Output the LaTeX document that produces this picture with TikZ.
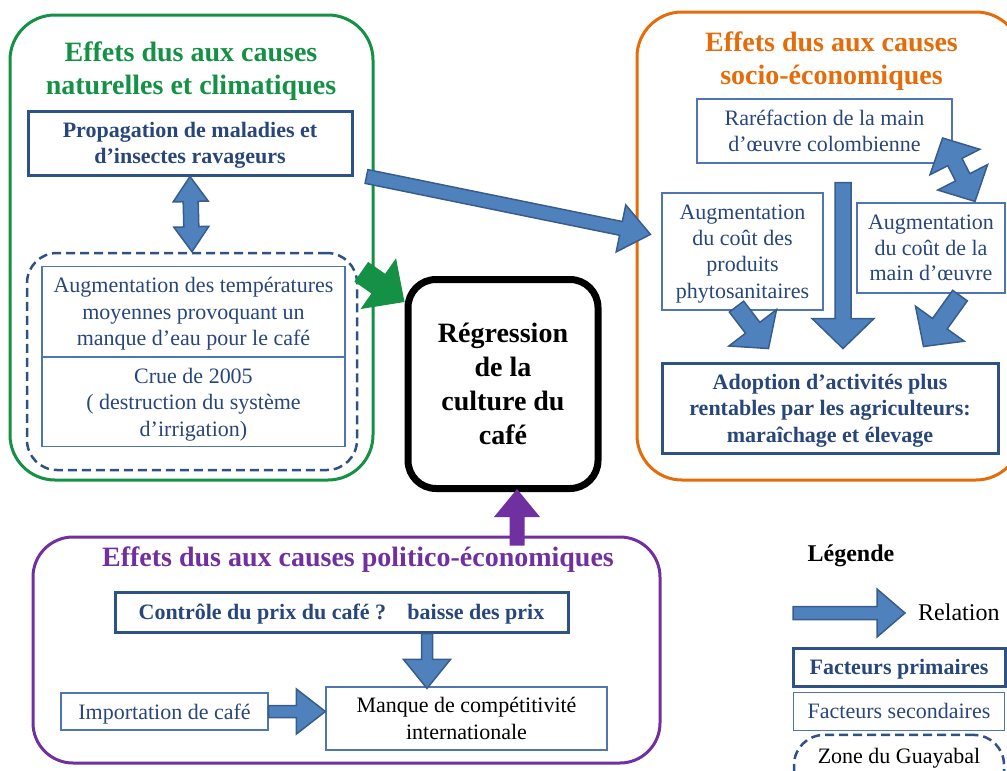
\documentclass[tikz,border=0pt]{standalone}
\usepackage{fontspec}
\setmainfont{Liberation Serif}
\usepackage{tikz}
\usetikzlibrary{calc,positioning}

\definecolor{ggreen}{RGB}{20,145,68}
\definecolor{gorange}{RGB}{228,108,10}
\definecolor{gpurple}{RGB}{112,48,160}
\definecolor{tblue}{RGB}{40,70,122}
\definecolor{pbord}{RGB}{47,82,133}
\definecolor{sbord}{RGB}{79,118,176}
\definecolor{afill}{RGB}{79,129,189}
\definecolor{aline}{RGB}{56,93,138}

% block arrow: [style]{from}{to}{half shaft}{half head}{head length}
\newcommand{\blockarrow}[6][relation]{%
  \path[#1] let \p1=#2, \p2=#3,
    \n1={atan2((\y2)-(\y1),(\x2)-(\x1))},
    \n2={veclen((\x2)-(\x1),(\y2)-(\y1))-#6} in
    ($(\p1)+(\n1+90:#4pt)$) -- ($(\p1)+(\n1:\n2)+(\n1+90:#4pt)$)
    -- ($(\p1)+(\n1:\n2)+(\n1+90:#5pt)$) -- (\p2)
    -- ($(\p1)+(\n1:\n2)+(\n1-90:#5pt)$)
    -- ($(\p1)+(\n1:\n2)+(\n1-90:#4pt)$)
    -- ($(\p1)+(\n1-90:#4pt)$) -- cycle;}
% same with a head at both ends
\newcommand{\twinarrow}[6][relation]{%
  \path[#1] let \p1=#2, \p2=#3,
    \n1={atan2((\y2)-(\y1),(\x2)-(\x1))},
    \n2={veclen((\x2)-(\x1),(\y2)-(\y1))-#6} in
    (\p1) -- ($(\p1)+(\n1:#6pt)+(\n1+90:#5pt)$)
    -- ($(\p1)+(\n1:#6pt)+(\n1+90:#4pt)$)
    -- ($(\p1)+(\n1:\n2)+(\n1+90:#4pt)$)
    -- ($(\p1)+(\n1:\n2)+(\n1+90:#5pt)$) -- (\p2)
    -- ($(\p1)+(\n1:\n2)+(\n1-90:#5pt)$)
    -- ($(\p1)+(\n1:\n2)+(\n1-90:#4pt)$)
    -- ($(\p1)+(\n1:#6pt)+(\n1-90:#4pt)$)
    -- ($(\p1)+(\n1:#6pt)+(\n1-90:#5pt)$) -- cycle;}

\begin{document}
\begin{tikzpicture}[x=1pt,y=-1pt,
  group node/.style={draw, line width=3pt, rounded corners=45pt},
  title node/.style={font=\bfseries\fontsize{28}{33}\selectfont, align=center, text depth=-2pt},
  prim node/.style={draw=pbord, line width=3pt, text=tblue, align=center, text depth=-2pt, font=\bfseries\fontsize{22}{26.5}\selectfont},
  sec node/.style={draw=sbord, line width=1.2pt, text=tblue, align=center, text depth=-2pt, font=\fontsize{22}{26.5}\selectfont},
  zone node/.style={draw=pbord, line width=2.5pt, dash pattern=on 9pt off 5pt, rounded corners=30pt},
  relation/.style={fill=afill, draw=aline, line width=1.5pt, line join=miter}]
\useasboundingbox (0,0) rectangle (1007,771);
\clip (0,0) rectangle (1007,771);

% frames
\node[group node, draw=ggreen, minimum width=363pt, minimum height=465pt] (g1) at (191.5,247.5) {};
\node[group node, draw=gorange, minimum width=384pt, minimum height=468pt] (g2) at (829,246) {};
\node[group node, draw=gpurple, rounded corners=40pt, minimum width=627pt, minimum height=226pt] (g3) at (346.5,650) {};
\node[title node, text=ggreen] (t1) at (191,68.5) {Effets dus aux causes\\naturelles et climatiques};
\node[title node, text=gorange] (t2) at (831.5,58.5) {Effets dus aux causes\\socio-économiques};
\node[title node, text=gpurple] (t3) at (358,557) {Effets dus aux causes politico-économiques};

% natural causes
\node[prim node, minimum width=324pt, minimum height=64pt] (1) at (190,143) {Propagation de maladies et\\d’insectes ravageurs};
\node[zone node, minimum width=330pt, minimum height=217pt] (z1) at (192,361.5) {};
\node[sec node, minimum width=303pt, minimum height=90pt] (2) at (193.5,311.5) {Augmentation des températures\\moyennes provoquant un\\manque d’eau pour le café};
\node[sec node, minimum width=303pt, minimum height=89pt] (3) [below=0pt of 2] {Crue de 2005\\( destruction du système\\d’irrigation)};

% centre
\node[draw, line width=7pt, rounded corners=28pt, minimum width=190pt, minimum height=209pt, align=center, text depth=-2pt, font=\bfseries\fontsize{28}{34}\selectfont] (4) at (503,384) {Régression\\de la\\culture du\\café};

% socio-economic causes
\node[sec node, minimum width=255pt, minimum height=64pt] (5) at (824.5,131) {Raréfaction de la main\\d’œuvre colombienne};
\node[sec node, minimum width=161pt, minimum height=117pt, font=\fontsize{22}{26.3}\selectfont] (6) at (742.5,251.5) {Augmentation\\du coût des\\produits\\phytosanitaires};
\node[sec node, minimum width=148pt, minimum height=90pt, font=\fontsize{22}{25.5}\selectfont] (7) at (931,248) {Augmentation\\du coût de la\\main d’œuvre};
\node[prim node, minimum width=336pt, minimum height=90pt] (8) at (830,408) {Adoption d’activités plus\\rentables par les agriculteurs:\\maraîchage et élevage};

% politico-economic causes
\node[prim node, minimum width=453pt, minimum height=40pt] (9) at (341.5,612) {Contrôle du prix du café ?\hspace{14pt} baisse des prix};
\node[sec node, minimum width=207pt, minimum height=37pt] (10) at (164.5,711.5) {Importation de café};
\node[sec node, text=black, minimum width=281pt, minimum height=63pt] (11) at (466.5,718.5) {Manque de compétitivité\\internationale};

% legend
\node[text depth=-2pt, font=\bfseries\fontsize{24}{28}\selectfont] (12) at (851,553) {Légende};
\node[anchor=west, inner sep=0pt, font=\fontsize{24}{28}\selectfont] (13) at (918,612) {Relation};
\node[prim node, minimum width=212pt, minimum height=38pt] (14) at (899,667) {Facteurs primaires};
\node[sec node, minimum width=211pt, minimum height=38pt] (15) [below=4pt of 14] {Facteurs secondaires};
\node[zone node, minimum width=210pt, minimum height=70pt] (z2) [below=3pt of 15] {};
\node[font=\fontsize{22}{26}\selectfont] (16) [below=11pt of z2.north] {Zone du Guayabal};

% relations
\twinarrow{(1.south)}{(z1.north)}{7.5}{17.5}{25};
\blockarrow{($(1.south east)+(13,0)$)}{($(6.north west)+(-11,42)$)}{7}{24}{30};
\blockarrow[fill=ggreen]{($(z1.north east)+(3,20)$)}{($(4.north west)+(0,26)$)}{12}{31}{32};
\blockarrow[fill=gpurple]{($(g3.north)+(170.5,10)$)}{($(4.south)+(14,-3)$)}{7.5}{23}{28};
\twinarrow{($(5.east)+(-10,7)$)}{($(7.north)+(44,-1)$)}{8}{28}{27};
\blockarrow{($(5.south)+(18.5,19)$)}{($(8.north)+(13,-13)$)}{8}{31}{30};
\blockarrow{($(6.south)+(-6,-4)$)}{($(8.north west)+(108,-13)$)}{9}{30}{26};
\blockarrow{($(7.south)+(29,2)$)}{($(8.north east)+(-76,-15)$)}{9}{30}{28};
\blockarrow{($(9.south)+(85.5,0)$)}{($(11.north)+(-39.5,2)$)}{5.5}{23.5}{29};
\blockarrow{(10.east)}{(10.east -| 11.west)}{6}{22.5}{29};
\blockarrow{($(13.west)+(-125,1)$)}{($(13.west)+(-13,1)$)}{6.5}{24}{28};
\end{tikzpicture}
\end{document}
